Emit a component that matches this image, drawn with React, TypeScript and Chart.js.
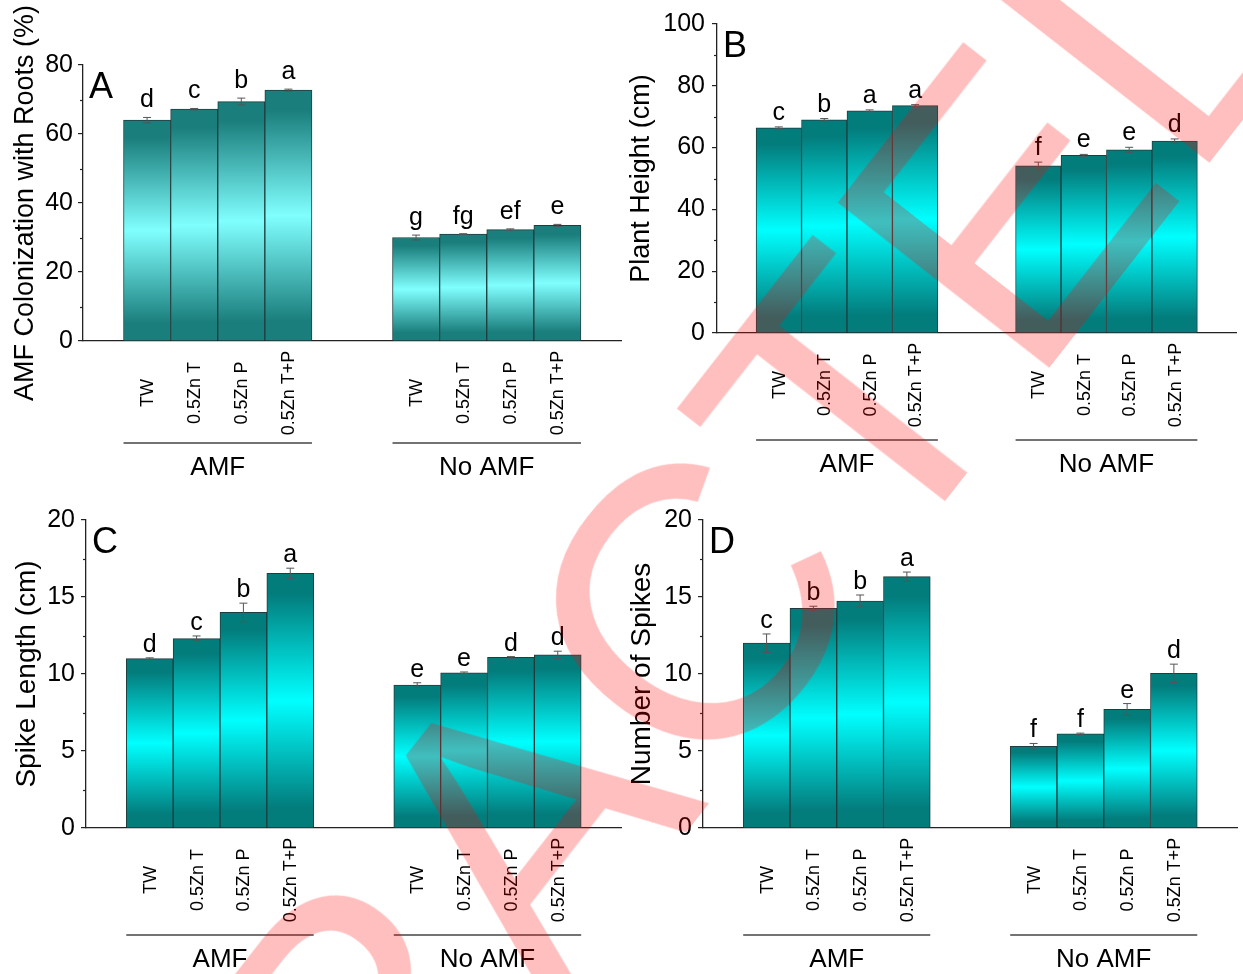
import React, { useEffect, useRef } from 'react';
import { Chart, registerables } from 'chart.js';

Chart.register(...registerables);

const FONT = '"Liberation Sans", Arial, Helvetica, sans-serif';

const categories = ['TW', '0.5Zn T', '0.5Zn P', '0.5Zn T+P'];
const groups = ['AMF', 'No AMF'];
// bar centres on a linear x-axis (units of one bar width)
const positions = [1.36, 2.36, 3.36, 4.36, 7.07, 8.07, 9.07, 10.07];
const xMin = 0;
const xMax = 11.42;

// Panel A: AMF colonization (%)
const colonizationValues = [64.0, 67.2, 69.4, 72.7, 30.0, 31.0, 32.3, 33.5];
const colonizationErrors = [0.8, 0.2, 1.0, 0.3, 0.7, 0.1, 0.2, 0.3];
const colonizationLetters = ['d', 'c', 'b', 'a', 'g', 'fg', 'ef', 'e'];

// Panel B: plant height (cm)
const heightValues = [66.4, 69.0, 71.9, 73.6, 54.1, 57.5, 59.3, 62.1];
const heightErrors = [0.3, 0.4, 0.3, 0.3, 1.2, 0.3, 0.8, 0.7];
const heightLetters = ['c', 'b', 'a', 'a', 'f', 'e', 'e', 'd'];

// Panel C: spike length (cm)
const spikeLengthValues = [11.0, 12.3, 14.0, 16.54, 9.28, 10.08, 11.08, 11.25];
const spikeLengthErrors = [0.05, 0.17, 0.6, 0.33, 0.15, 0.05, 0.05, 0.23];
const spikeLengthLetters = ['d', 'c', 'b', 'a', 'e', 'e', 'd', 'd'];

// Panel D: number of spikes
const spikeCountValues = [12.0, 14.26, 14.74, 16.32, 5.31, 6.11, 7.7, 10.04];
const spikeCountErrors = [0.6, 0.14, 0.39, 0.3, 0.18, 0.05, 0.38, 0.6];
const spikeCountLetters = ['c', 'b', 'b', 'a', 'f', 'f', 'e', 'd'];

const yTicksA = { max: 80, step: 20 };
const yTicksB = { max: 100, step: 20 };
const yTicksC = { max: 20, step: 5 };
const yTicksD = { max: 20, step: 5 };

const watermarkText = 'RETRACTED';

type Panel = {
  letter: string;
  title: string;
  values: number[];
  errors: number[];
  letters: string[];
  yMax: number;
  yStep: number;
  box: { left: number; top: number; width: number; height: number };
  yWidth: number;
  pad: { top: number; right: number; bottom: number };
  titleSize: number;
  titlePad: number;
  tickPad: number;
  letterGap: number;
  lineOffset: number;
  dark: string;
  bright: string;
};

const panels: Panel[] = [
  {
    letter: 'A', title: 'AMF Colonization with Roots (%)',
    values: colonizationValues, errors: colonizationErrors, letters: colonizationLetters,
    yMax: yTicksA.max, yStep: yTicksA.step,
    box: { left: 0, top: 0, width: 625, height: 490 }, yWidth: 83,
    pad: { top: 65, right: 4, bottom: 149 }, titleSize: 27, titlePad: 9, tickPad: 5,
    letterGap: 10, lineOffset: 102,
    dark: '#1A7E7C', bright: '#80FFFF',
  },
  {
    letter: 'B', title: 'Plant Height (cm)',
    values: heightValues, errors: heightErrors, letters: heightLetters,
    yMax: yTicksB.max, yStep: yTicksB.step,
    box: { left: 620, top: 0, width: 623, height: 490 }, yWidth: 97,
    pad: { top: 24, right: 7, bottom: 157 }, titleSize: 27, titlePad: 5, tickPad: 7,
    letterGap: 7, lineOffset: 107,
    dark: '#037C7C', bright: '#00FFFF',
  },
  {
    letter: 'C', title: 'Spike Length (cm)',
    values: spikeLengthValues, errors: spikeLengthErrors, letters: spikeLengthLetters,
    yMax: yTicksC.max, yStep: yTicksC.step,
    box: { left: 0, top: 490, width: 625, height: 484 }, yWidth: 86,
    pad: { top: 30, right: 4, bottom: 146 }, titleSize: 28, titlePad: 10, tickPad: 6,
    letterGap: 6, lineOffset: 107,
    dark: '#037C7C', bright: '#00FFFF',
  },
  {
    letter: 'D', title: 'Number of Spikes',
    values: spikeCountValues, errors: spikeCountErrors, letters: spikeCountLetters,
    yMax: yTicksD.max, yStep: yTicksD.step,
    box: { left: 620, top: 490, width: 623, height: 484 }, yWidth: 83,
    pad: { top: 30, right: 6, bottom: 146 }, titleSize: 28, titlePad: 5, tickPad: 6,
    letterGap: 6, lineOffset: 107,
    dark: '#037C7C', bright: '#00FFFF',
  },
];

function makeChart(canvas: HTMLCanvasElement, p: Panel) {
  const decorations = {
    id: 'decorations' + p.letter,
    afterDraw(chart: any) {
      const { ctx, chartArea } = chart;
      const x = chart.scales.x;
      const y = chart.scales.y;
      const half = (x.getPixelForValue(1) - x.getPixelForValue(0)) / 2;
      ctx.save();
      // minor ticks
      ctx.strokeStyle = '#222';
      ctx.lineWidth = 1.2;
      for (let v = p.yStep / 2; v < p.yMax; v += p.yStep) {
        const py = Math.round(y.getPixelForValue(v)) + 0.5;
        ctx.beginPath();
        ctx.moveTo(chartArea.left - 3, py);
        ctx.lineTo(chartArea.left, py);
        ctx.stroke();
      }
      // error bars and significance letters
      positions.forEach((pos, i) => {
        const px = x.getPixelForValue(pos);
        const top = y.getPixelForValue(p.values[i] + p.errors[i]);
        const bot = y.getPixelForValue(p.values[i] - p.errors[i]);
        ctx.strokeStyle = '#555';
        ctx.lineWidth = 1;
        ctx.beginPath();
        ctx.moveTo(px, top); ctx.lineTo(px, bot);
        ctx.moveTo(px - 4, top); ctx.lineTo(px + 4, top);
        ctx.moveTo(px - 4, bot); ctx.lineTo(px + 4, bot);
        ctx.stroke();
        ctx.fillStyle = '#000';
        ctx.font = `25px ${FONT}`;
        ctx.textAlign = 'center';
        ctx.textBaseline = 'alphabetic';
        ctx.fillText(p.letters[i], px, top - p.letterGap);
      });
      // rotated category labels
      positions.forEach((pos, i) => {
        const px = x.getPixelForValue(pos);
        ctx.save();
        ctx.translate(px, chartArea.bottom + 52);
        ctx.rotate(-Math.PI / 2);
        ctx.fillStyle = '#000';
        ctx.font = `18px ${FONT}`;
        ctx.textAlign = 'center';
        ctx.textBaseline = 'middle';
        ctx.fillText(categories[i % categories.length], 0, 1);
        ctx.restore();
      });
      // group brackets and labels
      groups.forEach((g, gi) => {
        const left = x.getPixelForValue(positions[gi * 4]) - half;
        const right = x.getPixelForValue(positions[gi * 4 + 3]) + half;
        const ly = chartArea.bottom + p.lineOffset;
        ctx.strokeStyle = '#444';
        ctx.lineWidth = 1.5;
        ctx.beginPath();
        ctx.moveTo(left, ly); ctx.lineTo(right, ly);
        ctx.stroke();
        ctx.fillStyle = '#000';
        ctx.font = `26px ${FONT}`;
        ctx.textAlign = 'center';
        ctx.textBaseline = 'alphabetic';
        ctx.fillText(g, (left + right) / 2, ly + 32);
      });
      // panel letter
      ctx.fillStyle = '#000';
      ctx.font = `36px ${FONT}`;
      ctx.textAlign = 'left';
      ctx.textBaseline = 'alphabetic';
      ctx.fillText(p.letter, chartArea.left + 6, chartArea.top + 33);
      ctx.restore();
    },
  };

  return new Chart(canvas, {
    type: 'bar',
    data: {
      datasets: [
        {
          data: positions.map((pos, i) => ({ x: pos, y: p.values[i] })),
          backgroundColor: (c: any) => {
            const chart = c.chart;
            const y = chart.scales && chart.scales.y;
            if (!chart.chartArea || !y || c.parsed == null) return p.bright;
            const top = y.getPixelForValue(c.parsed.y);
            const bot = y.getPixelForValue(0);
            const g = chart.ctx.createLinearGradient(0, top, 0, bot);
            g.addColorStop(0, p.dark);
            g.addColorStop(0.08, p.dark);
            g.addColorStop(0.5, p.bright);
            g.addColorStop(0.92, p.dark);
            g.addColorStop(1, p.dark);
            return g;
          },
          borderColor: '#1E3E3E',
          borderWidth: 1,
          barPercentage: 1,
          categoryPercentage: 1,
        },
      ],
    },
    options: {
      responsive: false,
      animation: false,
      events: [],
      layout: { padding: { left: 0, top: p.pad.top, right: p.pad.right, bottom: p.pad.bottom } },
      plugins: { legend: { display: false }, tooltip: { enabled: false } },
      scales: {
        x: {
          type: 'linear',
          min: xMin,
          max: xMax,
          offset: false,
          grid: { display: false, drawTicks: false },
          ticks: { display: false },
          border: { display: true, color: '#222', width: 1.3 },
          afterFit: (s: any) => { s.height = 0; },
        },
        y: {
          type: 'linear',
          min: 0,
          max: p.yMax,
          ticks: {
            stepSize: p.yStep,
            color: '#000',
            padding: p.tickPad,
            font: { size: 25, family: FONT },
          },
          grid: {
            display: true,
            drawOnChartArea: false,
            drawTicks: true,
            tickLength: 5,
            color: '#222',
            lineWidth: 1.2,
          },
          border: { display: true, color: '#222', width: 1.3 },
          title: {
            display: true,
            text: p.title,
            color: '#000',
            font: { size: p.titleSize, family: FONT },
            padding: { top: p.titlePad, bottom: 0 },
          },
          afterFit: (s: any) => { s.width = p.yWidth; },
        },
      },
    } as any,
    plugins: [decorations],
  });
}

function PanelChart({ panel }: { panel: Panel }) {
  const ref = useRef<HTMLCanvasElement | null>(null);
  useEffect(() => {
    if (!ref.current) return;
    const chart = makeChart(ref.current, panel);
    return () => chart.destroy();
  }, [panel]);
  return (
    <canvas
      ref={ref}
      width={panel.box.width}
      height={panel.box.height}
      style={{
        position: 'absolute',
        left: panel.box.left,
        top: panel.box.top,
        width: panel.box.width,
        height: panel.box.height,
      }}
    />
  );
}

export default function App() {
  return (
    <div
      style={{
        position: 'absolute',
        left: 0,
        top: 0,
        width: 1243,
        height: 974,
        overflow: 'hidden',
        background: '#fff',
        fontFamily: FONT,
      }}
    >
      {panels.map((p) => (
        <PanelChart key={p.letter} panel={p} />
      ))}
      <div
        style={{
          position: 'absolute',
          left: 523,
          top: 822,
          transform: 'translate(-50%, -50%) rotate(-52deg)',
          fontSize: 390,
          lineHeight: 1,
          whiteSpace: 'nowrap',
          color: 'rgba(255, 0, 0, 0.25)',
          fontFamily: FONT,
          pointerEvents: 'none',
        }}
      >
        {watermarkText}
      </div>
    </div>
  );
}
